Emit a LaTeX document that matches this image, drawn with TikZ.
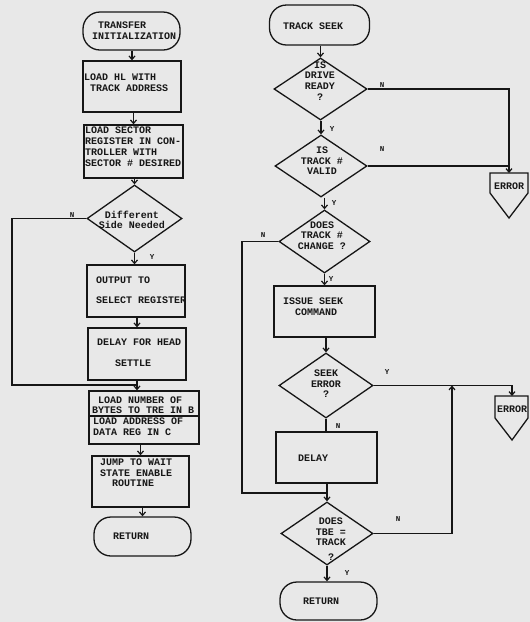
\documentclass[tikz,border=0pt]{standalone}
\usepackage{fontspec}
\setmonofont{Liberation Mono}
\usetikzlibrary{shapes.geometric,arrows.meta}
\definecolor{bg}{RGB}{232,232,232}
\definecolor{ink}{RGB}{22,22,22}
\begin{document}
\begin{tikzpicture}[x=1pt,y=-1pt,
  every node/.style={font=\ttfamily\bfseries\fontsize{10}{10.5}\selectfont, text=ink},
  shp/.style={draw=ink, line width=1.3pt, inner sep=0pt},
  box/.style={shp, rectangle},
  term/.style={shp, rectangle, rounded corners=17pt},
  dia/.style={shp, diamond},
  txt/.style={inner sep=0pt, align=left, anchor=north west},
  ctxt/.style={inner sep=0pt, align=center},
  lab/.style={inner sep=0pt, font=\ttfamily\bfseries\fontsize{7.5}{7.5}\selectfont},
  arr/.style={draw=ink, line width=1.2pt, -{Straight Barb[length=3.5pt,width=6pt]}},
  ln/.style={draw=ink, line width=1.2pt}]
\useasboundingbox (0,0) rectangle (530,622);
\fill[bg] (0,0) rectangle (530,622);

% ---------------- left column ----------------
\node[term, minimum width=97pt, minimum height=38pt] (t1) at (131.5,31) {};
\node[txt] (t1x) at (92,22) {\hphantom{X}TRANSFER\\INITIALIZATION};

\node[box, minimum width=98pt, minimum height=51pt] (b1) at (132,86.5) {};
\node[txt] (b1x) at (84,74) {LOAD HL WITH\\\hphantom{X}TRACK ADDRESS};

\node[box, minimum width=99pt, minimum height=53pt] (b2) at (133.5,151.5) {};
\node[txt, font=\ttfamily\bfseries\fontsize{10}{11}\selectfont] (b2x) at (85,127) {LOAD SECTOR\\REGISTER IN CON-\\TROLLER WITH\\SECTOR \# DESIRED};

\node[dia, minimum width=95pt, minimum height=67pt] (d1) at (134.5,218.5) {};
\node[ctxt] (d1x) at (132,220) {Different\\Side Needed};

\node[box, minimum width=98pt, minimum height=52pt] (b3) at (136,291) {};
\node[txt] (b3x) at (96,277) {OUTPUT TO\\[9pt]SELECT REGISTER};

\node[box, minimum width=98pt, minimum height=52pt] (b4) at (137,354) {};
\node[txt] (b4x) at (97,339) {DELAY FOR HEAD\\[10pt]\hphantom{XXX}SETTLE};

\node[box, minimum width=110pt, minimum height=53pt] (b5) at (144,417.5) {};
\draw[ln] (b5.west |- 0,416) -- (b5.east |- 0,416);
\node[txt, font=\ttfamily\bfseries\fontsize{10}{9.5}\selectfont] (b5a) at (92,397) {\hphantom{X}LOAD NUMBER OF\\BYTES TO TRE IN B};
\node[txt, font=\ttfamily\bfseries\fontsize{10}{11}\selectfont] (b5b) at (93,418) {LOAD ADDRESS OF\\DATA REG IN C};

\node[box, minimum width=97pt, minimum height=51pt] (b6) at (140.5,481.5) {};
\node[txt] (b6x) at (100,459) {JUMP TO WAIT\\STATE ENABLE\\\hphantom{XX}ROUTINE};

\node[term, minimum width=97pt, minimum height=39pt] (t2) at (142.5,536.5) {};
\node[txt] (t2x) at (113,533) {RETURN};

\draw[arr] (b1.north |- t1.south) -- (b1.north);
\draw[arr] (b2.north |- b1.south) -- (b2.north);
\draw[arr] (d1.north |- b2.south) -- (d1.north);
\draw[arr] (d1.south) -- (d1.south |- b3.north);
\draw[arr] (b4.north |- b3.south) -- (b4.north);
\coordinate (j1) at (137,385);
\draw[arr] (b4.south) -- (b4.south |- b5.north);
\draw[ln] (d1.west) -- (12,218.5) -- (12,385) -- (j1);
\draw[arr] (b6.north |- b5.south) -- (b6.north);
\draw[arr] (t2.north |- b6.south) -- (t2.north);
\node[lab] (l1) at (72,215) {N};
\node[lab] (l2) at (152,257) {Y};

% ---------------- right column ----------------
\node[term, minimum width=100pt, minimum height=40pt] (t3) at (319.5,25) {};
\node[txt] (t3x) at (283,23) {TRACK SEEK};

\node[dia, minimum width=93pt, minimum height=62pt] (d2) at (320.5,89) {};
\node[ctxt, font=\ttfamily\bfseries\fontsize{10}{10.7}\selectfont] (d2x) at (320,81) {IS\\DRIVE\\READY\\?};

\node[dia, minimum width=92pt, minimum height=62pt] (d3) at (321,166) {};
\node[ctxt] (d3x) at (322,161) {IS\\TRACK \#\\VALID};

\node[dia, minimum width=91pt, minimum height=63pt] (d4) at (324.5,241.5) {};
\node[ctxt] (d4x) at (322,235.5) {DOES\\TRACK \#\\CHANGE ?};

\node[box, minimum width=101pt, minimum height=51pt] (b7) at (324.5,311.5) {};
\node[txt] (b7x) at (283,298) {ISSUE SEEK\\\hphantom{XX}COMMAND};

\node[dia, minimum width=94pt, minimum height=65pt] (d5) at (326,385.5) {};
\node[ctxt] (d5x) at (326,384) {SEEK\\ERROR\\?};

\node[box, minimum width=101pt, minimum height=51pt] (b8) at (326.5,457.5) {};
\node[txt] (b8x) at (298,455) {DELAY};

\node[dia, minimum width=92pt, minimum height=63pt] (d6) at (327,533.5) {};
\node[ctxt] (d6x) at (331,539) {DOES\\TBE =\\TRACK\\[4pt]?};

\node[term, minimum width=97pt, minimum height=38pt] (t4) at (328.5,601) {};
\node[txt] (t4x) at (303,598) {RETURN};

% error terminals
\draw[shp] (490,173) -- (528,173) -- (528,193) -- (509,218) -- (490,193) -- cycle;
\coordinate (e1) at (509,173);
\node[ctxt] (e1x) at (509,186) {ERROR};
\draw[shp] (495,396) -- (528,396) -- (528,418) -- (512,440) -- (495,418) -- cycle;
\coordinate (e2) at (512,396);
\node[ctxt] (e2x) at (512,409) {ERROR};

% connectors
\draw[arr] (d2.north |- t3.south) -- (d2.north);
\draw[arr] (d3.north |- d2.south) -- (d3.north);
\draw[arr] (d4.north |- d3.south) -- (d4.north);
\draw[arr] (d4.south) -- (d4.south |- b7.north);
\draw[arr] (d5.north |- b7.south) -- (d5.north);
\draw[ln] (d5.south) -- (d5.south |- b8.north);
\coordinate (j2) at (327,493);
\draw[arr] (b8.south -| d6.north) -- (d6.north);
\draw[ln] (d4.west) -- (242,241.5) -- (242,493) -- (j2);
\draw[arr] (d6.south) -- (d6.south |- t4.north);

\draw[arr] (d2.east) -- (e1 |- d2.east) -- (e1);
\draw[ln] (d3.east) -- (e1 |- d3.east);
\coordinate (j3) at (452,385.5);
\draw[arr] (d5.east) -- (e2 |- d5.east) -- (e2);
\draw[arr] (d6.east) -- (j3 |- d6.east) -- (j3);

\node[lab] (l3) at (382,85) {N};
\node[lab] (l4) at (332,129) {Y};
\node[lab] (l5) at (382,149) {N};
\node[lab] (l6) at (334,203) {Y};
\node[lab] (l7) at (263,235) {N};
\node[lab] (l8) at (331,279) {Y};
\node[lab] (l9) at (387,372) {Y};
\node[lab] (l10) at (338,426) {N};
\node[lab] (l11) at (398,519) {N};
\node[lab] (l12) at (347,573) {Y};
\end{tikzpicture}
\end{document}
